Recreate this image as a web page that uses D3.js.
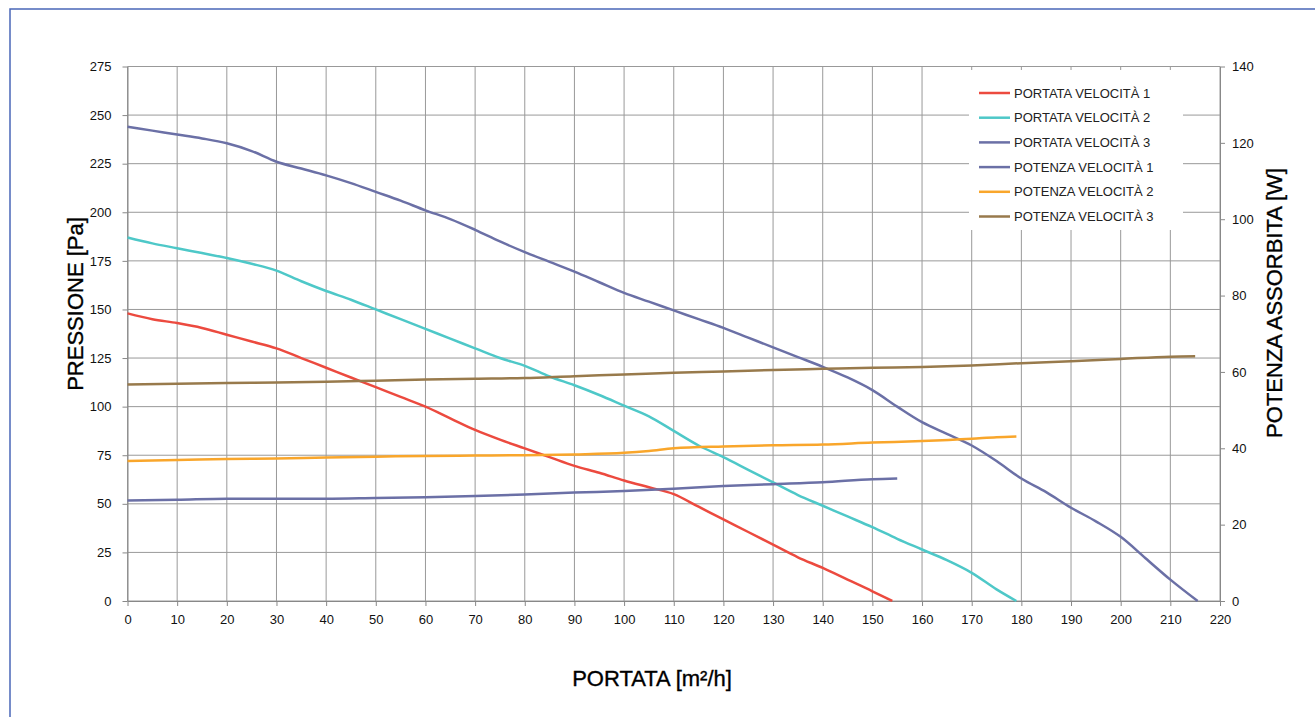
<!DOCTYPE html>
<html>
<head>
<meta charset="utf-8">
<title>Curve ventilatore</title>
<script src="https://cdn.jsdelivr.net/npm/d3@7"></script>
<style>
  body { margin: 0; background: #fff; }
  svg { font-family: "Liberation Sans", Arial, Helvetica, sans-serif; }
  .grid line { stroke: #999; stroke-width: 1; }
  .axis path, .axis line { stroke: #888; }
  .axis text { font-size: 13px; fill: #111; }
  .title { font-size: 22px; fill: #000; stroke: #000; stroke-width: 0.35px; }
</style>
</head>
<body>
<svg id="chart" width="1315" height="717"></svg>
<script>
// pressione [Pa] (asse sinistro)
var portata1X = [0,5,10,15,20,25,30,35,40,45,50,55,60,65,70,75,80,85,90,95,100,105,110,115,120,125,130,135,140,145,150,154];
var portata1Y = [148,145,143,140.5,137,133.5,130,125,120,115,110,105,100,94,88,83,78.5,74,69.5,66,62,58.5,55,48.5,42,35.5,29,22.5,17,11,5,0];

var portata2X = [0,5,10,15,20,25,30,35,40,45,50,55,60,65,70,75,80,85,90,95,100,105,110,115,120,125,130,135,140,145,150,155,160,165,170,175,179];
var portata2Y = [187,184,181.5,179,176.5,173.5,170,164.5,159.5,155,150,145,140,135,130,125,121,115.5,111,106,100.5,95,87.5,80,74,67.5,61,54.5,49,43.5,38,32,26.5,21,14.5,6,0];

var portata3X = [0,5,10,15,20,25,30,35,40,45,50,55,60,65,70,75,80,85,90,95,100,105,110,115,120,125,130,135,140,145,150,155,160,165,170,175,180,185,190,195,200,205,210,215.5];
var portata3Y = [244,242,240,238,235.5,231.5,226,222.5,219,215,210.5,206,201,196.5,191,185,179.5,174.5,169.5,164,158.5,154,149.5,145,140.5,135.5,130.5,125.5,120.5,115,108.5,100,92,86,80,72,63,56,48,41,33,22,11,0];

// potenza assorbita [W] (asse destro)
var potenza1X = [0,10,20,30,40,50,60,70,80,90,100,110,120,130,140,150,155];
var potenza1Y = [26.3,26.5,26.8,26.8,26.8,27,27.2,27.5,27.9,28.4,28.8,29.4,30.1,30.6,31.1,31.9,32.1];

var potenza2X = [0,10,20,30,40,50,60,70,80,90,100,105,110,120,130,140,150,160,170,175,179];
var potenza2Y = [36.7,36.9,37.2,37.3,37.6,37.8,38,38.1,38.2,38.4,38.8,39.3,40,40.5,40.8,41,41.5,41.9,42.5,42.9,43.1];

var potenza3X = [0,10,20,30,40,50,60,70,80,90,100,110,120,130,140,150,160,170,180,190,200,210,215];
var potenza3Y = [56.7,56.9,57.1,57.2,57.4,57.7,58,58.2,58.4,58.9,59.3,59.8,60.1,60.5,60.8,61.1,61.3,61.7,62.3,62.8,63.4,64,64.1];

var xTicks = d3.range(0, 221, 10);
var yLeftTicks = d3.range(0, 276, 25);
var yRightTicks = d3.range(0, 141, 20);

var seriesNames = ["PORTATA VELOCITÀ 1", "PORTATA VELOCITÀ 2", "PORTATA VELOCITÀ 3",
                   "POTENZA VELOCITÀ 1", "POTENZA VELOCITÀ 2", "POTENZA VELOCITÀ 3"];
var seriesColors = ["#ec4a3f", "#4ec8c8", "#6b70a6", "#6b70a6", "#f9a62b", "#987a4c"];

var svg = d3.select("#chart");
var plotLeft = 127.5, plotRight = 1220, plotTop = 66.5, plotBottom = 601;

// cornice esterna
svg.append("rect")
    .attr("x", 10).attr("y", 9)
    .attr("width", 1330).attr("height", 730)
    .attr("fill", "none")
    .attr("stroke", "#4a67b8")
    .attr("stroke-width", 1.5);

var x = d3.scaleLinear().domain([0, 220]).range([plotLeft, plotRight]);
var yL = d3.scaleLinear().domain([0, 275]).range([plotBottom, plotTop]);
var yR = d3.scaleLinear().domain([0, 140]).range([plotBottom, plotTop]);

var grid = svg.append("g").attr("class", "grid");
grid.selectAll(".v").data(xTicks).enter().append("line")
    .attr("class", "v")
    .attr("x1", d => x(d)).attr("x2", d => x(d))
    .attr("y1", plotTop).attr("y2", plotBottom);
grid.selectAll(".h").data(yLeftTicks).enter().append("line")
    .attr("class", "h")
    .attr("x1", plotLeft).attr("x2", plotRight)
    .attr("y1", d => yL(d)).attr("y2", d => yL(d));

svg.append("g")
    .attr("class", "axis")
    .attr("transform", "translate(0," + plotBottom + ")")
    .call(d3.axisBottom(x).tickValues(xTicks).tickSize(5).tickSizeOuter(0).tickPadding(9));

svg.append("g")
    .attr("class", "axis")
    .attr("transform", "translate(" + plotLeft + ",0)")
    .call(d3.axisLeft(yL).tickValues(yLeftTicks).tickSize(5).tickSizeOuter(0).tickPadding(11));

svg.append("g")
    .attr("class", "axis")
    .attr("transform", "translate(" + plotRight + ",0)")
    .call(d3.axisRight(yR).tickValues(yRightTicks).tickSize(5).tickSizeOuter(0).tickPadding(7));

// curve
var series = [
  {x: portata1X, y: portata1Y, s: yL},
  {x: portata2X, y: portata2Y, s: yL},
  {x: portata3X, y: portata3Y, s: yL},
  {x: potenza1X, y: potenza1Y, s: yR},
  {x: potenza2X, y: potenza2Y, s: yR},
  {x: potenza3X, y: potenza3Y, s: yR}
];

series.forEach(function(sr, i) {
  var pts = sr.x.map((v, j) => [v, sr.y[j]]);
  var line = d3.line()
      .x(d => x(d[0]))
      .y(d => sr.s(d[1]))
      .curve(d3.curveMonotoneX);
  svg.append("path")
      .datum(pts)
      .attr("fill", "none")
      .attr("stroke", seriesColors[i])
      .attr("stroke-width", 2.5)
      .attr("stroke-linejoin", "round")
      .attr("d", line);
});

// legenda
var lg = svg.append("g");
lg.append("rect")
    .attr("x", 969).attr("y", 70)
    .attr("width", 214).attr("height", 160)
    .attr("fill", "#fff");
seriesNames.forEach(function(name, i) {
  var cy = 93 + i * 24.7;
  lg.append("line")
      .attr("x1", 979).attr("x2", 1010)
      .attr("y1", cy).attr("y2", cy)
      .attr("stroke", seriesColors[i])
      .attr("stroke-width", 2.5);
  lg.append("text")
      .attr("x", 1014).attr("y", cy + 4.5)
      .attr("font-size", 13).attr("fill", "#222")
      .text(name);
});

// titoli assi
svg.append("text")
    .attr("class", "title")
    .attr("x", 652).attr("y", 686)
    .attr("text-anchor", "middle")
    .text("PORTATA [m²/h]");

svg.append("text")
    .attr("class", "title")
    .attr("transform", "translate(83,304) rotate(-90)")
    .attr("text-anchor", "middle")
    .text("PRESSIONE [Pa]");

svg.append("text")
    .attr("class", "title")
    .attr("transform", "translate(1282,303) rotate(-90)")
    .attr("text-anchor", "middle")
    .text("POTENZA ASSORBITA [W]");
</script>
</body>
</html>
